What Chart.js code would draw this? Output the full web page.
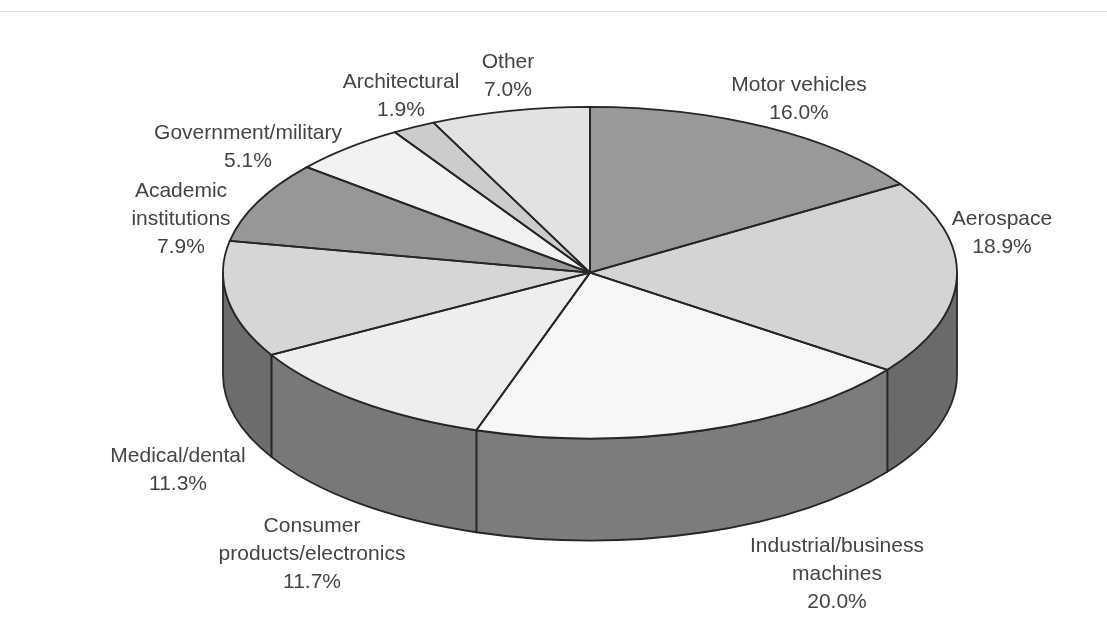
<!DOCTYPE html>
<html>
<head>
<meta charset="utf-8">
<title>Market share by sector</title>
<script src="https://cdn.jsdelivr.net/npm/chart.js@4"></script>
<style>
  html, body { margin: 0; padding: 0; background: #fff; }
  #wrap { position: relative; width: 1107px; height: 635px; overflow: hidden; }
  #rule { position: absolute; left: 0; right: 0; top: 11px; height: 1px; background: #e4e4e4; }
  canvas { position: absolute; left: 0; top: 0; filter: blur(0.5px); }
</style>
</head>
<body>
<div id="wrap">
  <div id="rule"></div>
  <canvas id="myChart" width="1107" height="635"></canvas>
</div>
<script>
// data
const categories = [
  "Motor vehicles",
  "Aerospace",
  "Industrial/business\nmachines",
  "Consumer\nproducts/electronics",
  "Medical/dental",
  "Academic\ninstitutions",
  "Government/military",
  "Architectural",
  "Other",
];
const shares = [16.0, 18.9, 20.0, 11.7, 11.3, 7.9, 5.1, 1.9, 7.0];

// styles
const topColors = ["#999999", "#d4d4d4", "#f7f7f7", "#eeeeee", "#d6d6d6", "#979797", "#f2f2f2", "#cccccc", "#e2e2e2"];
const wallColors = ["#6a6a6a", "#6a6a6a", "#7c7c7c", "#787878", "#6c6c6c", "#6c6c6c", "#6c6c6c", "#6c6c6c", "#6c6c6c"];
// where each label block goes: centre x, centre y of its first line
const labelSpots = [
  [799, 85], [1002, 219], [837, 546], [312, 526], [178, 456],
  [181, 191], [248, 133], [401, 82], [508, 62],
];
const lineHeight = 28.3;
const lineColor = "#262626";

// the disc on the page
const disc = { x: 590, y: 272.6, rx: 367, ry: 165.8, depth: 102 };

// --------------tilted pie plugin---------------------//
const tiltedPie = {
  id: "tiltedPie",
  beforeDatasetsDraw(chart) {
    const ctx = chart.ctx;
    const arcs = chart.getDatasetMeta(0).data;
    ctx.save();
    ctx.lineWidth = 1.8;
    ctx.strokeStyle = lineColor;
    ctx.lineJoin = "round";
    arcs.forEach((arc, i) => {
      // only the front half of the rim shows
      const a0 = Math.max(arc.startAngle, 0);
      const a1 = Math.min(arc.endAngle, Math.PI);
      if (a1 <= a0) return;
      ctx.beginPath();
      ctx.ellipse(disc.x, disc.y, disc.rx, disc.ry, 0, a0, a1);
      ctx.ellipse(disc.x, disc.y + disc.depth, disc.rx, disc.ry, 0, a1, a0, true);
      ctx.closePath();
      ctx.fillStyle = wallColors[i];
      ctx.fill();
      ctx.stroke();
    });
    ctx.restore();
  },
  beforeDatasetDraw(chart) {
    const ctx = chart.ctx;
    const arc = chart.getDatasetMeta(0).data[0];
    ctx.save();
    ctx.translate(disc.x, disc.y);
    ctx.scale(disc.rx / arc.outerRadius, disc.ry / arc.outerRadius);
    ctx.translate(-arc.x, -arc.y);
  },
  afterDatasetDraw(chart) {
    chart.ctx.restore();
  },
  afterDatasetsDraw(chart) {
    const ctx = chart.ctx;
    const arcs = chart.getDatasetMeta(0).data;
    ctx.save();
    ctx.lineWidth = 1.8;
    ctx.strokeStyle = lineColor;
    ctx.lineJoin = "round";
    arcs.forEach((arc) => {
      ctx.beginPath();
      ctx.moveTo(disc.x, disc.y);
      ctx.ellipse(disc.x, disc.y, disc.rx, disc.ry, 0, arc.startAngle, arc.endAngle);
      ctx.closePath();
      ctx.stroke();
    });
    // labels
    ctx.fillStyle = "#444444";
    ctx.font = '21px "Liberation Sans", Arial, sans-serif';
    ctx.textAlign = "center";
    ctx.textBaseline = "middle";
    categories.forEach((name, i) => {
      const lines = name.split("\n").concat(shares[i].toFixed(1) + "%");
      lines.forEach((line, k) => {
        ctx.fillText(line, labelSpots[i][0], labelSpots[i][1] + k * lineHeight);
      });
    });
    ctx.restore();
  },
};

let myPie = document.getElementById("myChart").getContext("2d");
let chart1 = new Chart(myPie, {
  type: "pie",
  data: {
    labels: categories,
    datasets: [
      {
        data: shares,
        backgroundColor: topColors,
        borderWidth: 0,
        clip: false,
      },
    ],
  },
  options: {
    responsive: false,
    animation: false,
    layout: { padding: 0 },
    plugins: {
      legend: { display: false },
      tooltip: { enabled: false },
    },
  },
  plugins: [tiltedPie],
});
</script>
</body>
</html>
